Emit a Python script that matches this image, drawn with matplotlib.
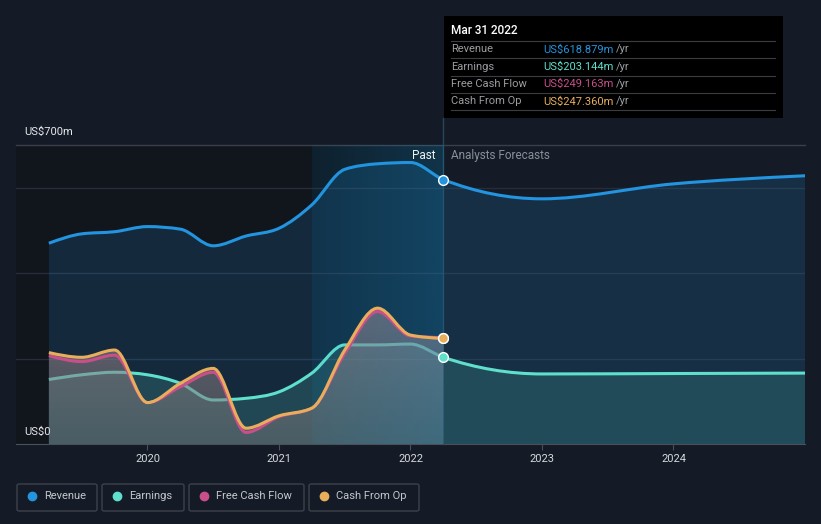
import numpy as np
import matplotlib
matplotlib.use('Agg')
import matplotlib.pyplot as plt
from matplotlib.path import Path
from matplotlib.patches import PathPatch, Rectangle, FancyBboxPatch
from matplotlib.lines import Line2D
from matplotlib.colors import to_rgb

plt.rcParams['font.family'] = ['Roboto', 'DejaVu Sans']

# --- data (US$m, trailing twelve months) ---
past_dates = [2019.25, 2019.5, 2019.75, 2020.0, 2020.25, 2020.5, 2020.75,
              2021.0, 2021.25, 2021.5, 2021.75, 2022.0, 2022.25]
revenue_past = [470, 492, 497, 509, 503, 464, 487, 505, 560, 643, 656, 659, 619]
earnings_past = [151, 162, 168, 162, 142, 103, 107, 122, 166, 232, 232, 234, 203]
fcf_past = [207, 193, 208, 97, 134, 168, 27, 64, 84, 212, 310, 253, 249]
cfo_past = [214, 203, 220, 97, 142, 177, 37, 66, 84, 220, 318, 255, 247]

fcst_dates = [2022.25, 2023.0, 2024.0, 2025.0]
revenue_fcst = [619, 574, 609, 628]
earnings_fcst = [203, 164, 165, 166]

x_ticks = [2020, 2021, 2022, 2023, 2024]

tooltip_date = 'Mar 31 2022'
tooltip_rows = [('Revenue', 'US$618.879m'), ('Earnings', 'US$203.144m'),
                ('Free Cash Flow', 'US$249.163m'), ('Cash From Op', 'US$247.360m')]

C_REV = '#2394df'
C_EARN = '#5fe0cc'
C_FCF = '#c94f8a'
C_CFO = '#e8ae5c'
BG = '#151b26'

W, H = 821, 524


def fx(x):
    return x / W


def fy(y):
    return 1 - y / H


def monotone_path(xs, ys, close=False):
    # monotone cubic curve (like d3 curveMonotoneX) as bezier path
    xs = np.asarray(xs, float)
    ys = np.asarray(ys, float)
    n = len(xs)
    h = np.diff(xs)
    d = np.diff(ys) / h
    m = np.zeros(n)
    for i in range(1, n - 1):
        if d[i - 1] * d[i] <= 0:
            m[i] = 0
        else:
            p = (d[i - 1] * h[i] + d[i] * h[i - 1]) / (h[i - 1] + h[i])
            m[i] = (np.sign(d[i - 1]) + np.sign(d[i])) * min(abs(d[i - 1]), abs(d[i]), 0.5 * abs(p))
    m[0] = (3 * d[0] - m[1]) / 2
    m[-1] = (3 * d[-1] - m[-2]) / 2
    verts = [(xs[0], ys[0])]
    codes = [Path.MOVETO]
    for i in range(n - 1):
        verts += [(xs[i] + h[i] / 3, ys[i] + m[i] * h[i] / 3),
                  (xs[i + 1] - h[i] / 3, ys[i + 1] - m[i + 1] * h[i] / 3),
                  (xs[i + 1], ys[i + 1])]
        codes += [Path.CURVE4] * 3
    if close:
        verts += [(xs[-1], 0), (xs[0], 0), (xs[0], 0)]
        codes += [Path.LINETO, Path.LINETO, Path.CLOSEPOLY]
    return Path(verts, codes)


fig = plt.figure(figsize=(W / 100, H / 100), dpi=100, facecolor=BG)
ax = fig.add_axes([fx(16), fy(444), fx(805 - 16), (444 - 145) / H])
ax.set_facecolor(BG)

# darker past background + highlighted last year
ax.axvspan(2019.0, 2021.25, color='#11151c', zorder=0, lw=0)
ax.axvspan(2021.25, 2022.25, color='#0e1b26', zorder=0, lw=0)

for g in [200, 400, 600]:
    ax.axhline(g, color='#262d39', lw=1, zorder=1)
ax.axhline(700, color='#3a404b', lw=1, zorder=1, clip_on=False)

rev_x = past_dates + fcst_dates[1:]
rev_y = revenue_past + revenue_fcst[1:]
earn_x = past_dates + fcst_dates[1:]
earn_y = earnings_past + earnings_fcst[1:]

# fills and lines
ax.add_patch(PathPatch(monotone_path(rev_x, rev_y, True), fc=C_REV, alpha=0.17, lw=0, zorder=2))
ax.add_patch(PathPatch(monotone_path(rev_x, rev_y), fc='none', ec=C_REV, lw=2.2, zorder=6))
ax.add_patch(PathPatch(monotone_path(earn_x, earn_y, True), fc=C_EARN, alpha=0.16, lw=0, zorder=2))
ax.add_patch(PathPatch(monotone_path(earn_x, earn_y), fc='none', ec=C_EARN, lw=2.2, zorder=6))

# cash area: warm grey, fading towards the bottom
cash_patch = PathPatch(monotone_path(past_dates, cfo_past, True), fc='none', lw=0, zorder=7)
ax.add_patch(cash_patch)
grad = np.zeros((100, 1, 4))
top_c = np.array(to_rgb('#a08890'))
bot_c = np.array(to_rgb('#747476'))
for k in range(100):
    t = k / 99
    grad[k, 0, :3] = bot_c * (1 - t) + top_c * t
    grad[k, 0, 3] = 0.5 + 0.1 * t
im = ax.imshow(grad, extent=[2019.0, 2022.25, 0, 330], origin='lower', aspect='auto',
               zorder=7, interpolation='bilinear')
im.set_clip_path(cash_patch)

ax.add_patch(PathPatch(monotone_path(past_dates, fcf_past), fc='none', ec=C_FCF, lw=2.2, zorder=8))
ax.add_patch(PathPatch(monotone_path(past_dates, cfo_past), fc='none', ec=C_CFO, lw=2.2, zorder=9))

# band tint over the fills, stronger to the right
band = np.zeros((1, 100, 4))
band[0, :, :3] = to_rgb('#1a9ad8')
band[0, :, 3] = np.linspace(0.05, 0.2, 100)
ax.imshow(band, extent=[2021.25, 2022.25, 0, 700], aspect='auto', zorder=7.5,
          interpolation='bilinear')
ax.set_xlim(2019.0, 2025.0)
ax.set_ylim(0, 700)
ax.axvline(2022.25, ymax=(444 - 118) / (444 - 145), color='#25465c', lw=1, zorder=5, clip_on=False)

# end points
ax.plot([2022.25], [revenue_past[-1]], 'o', ms=7, mfc=C_REV, mec='white', mew=1, zorder=10)
ax.plot([2022.25], [fcf_past[-1]], 'o', ms=7, mfc=C_FCF, mec='white', mew=1, zorder=10)
ax.plot([2022.25], [cfo_past[-1]], 'o', ms=7, mfc=C_CFO, mec='white', mew=1, zorder=10)
ax.plot([2022.25], [earnings_past[-1]], 'o', ms=7, mfc=C_EARN, mec='white', mew=1, zorder=10)

# axes styling
for s in ['top', 'right', 'left']:
    ax.spines[s].set_visible(False)
ax.spines['bottom'].set_color('#4a505a')
ax.set_yticks([])
ax.set_xticks(x_ticks)
ax.set_xticklabels([str(t) for t in x_ticks])
ax.tick_params(axis='x', colors='#4a505a', labelcolor='#d6d8dc', labelsize=8, length=4, pad=3)

fig.text(fx(24), fy(132), 'US$700m', color='#e6e8eb', fontsize=8, va='center')
fig.text(fx(24), fy(432), 'US$0', color='#e6e8eb', fontsize=8, va='center', zorder=20)
fig.text(fx(435), fy(156), 'Past', color='#f0f2f4', fontsize=8.5, va='center', ha='right')
fig.text(fx(451), fy(156), 'Analysts Forecasts', color='#8a8f98', fontsize=8.5, va='center')

# tooltip
fig.add_artist(Rectangle((fx(444), fy(118)), fx(783 - 444), (118 - 16) / H,
                         transform=fig.transFigure, fc='#000000', ec='none', zorder=30))
fig.text(fx(451), fy(31), tooltip_date, color='white', fontsize=8.5, va='center',
         fontweight='medium', zorder=31)
row_colors = [C_REV, C_EARN, C_FCF, C_CFO]
renderer = fig.canvas.get_renderer()
for i, ((lab, val), c) in enumerate(zip(tooltip_rows, row_colors)):
    ytop = 41 + i * 17.3
    fig.add_artist(Line2D([fx(451), fx(775)], [fy(ytop), fy(ytop)], transform=fig.transFigure,
                          color='#3a3d42', lw=0.8, zorder=31))
    yc = ytop + 8.5
    fig.text(fx(451), fy(yc), lab, color='#9a9da2', fontsize=8, va='center', zorder=31)
    t = fig.text(fx(543), fy(yc), val, color=c, fontsize=8, va='center', zorder=31)
    bb = t.get_window_extent(renderer)
    fig.text(bb.x1 / W + fx(3), fy(yc), '/yr', color='#9a9da2', fontsize=8, va='center', zorder=31)
fig.add_artist(Line2D([fx(451), fx(775)], [fy(110), fy(110)], transform=fig.transFigure,
                      color='#3a3d42', lw=0.8, zorder=31))

# legend
legend_items = [('Revenue', C_REV, 17, 97), ('Earnings', C_EARN, 102, 184),
                ('Free Cash Flow', C_FCF, 189, 304), ('Cash From Op', C_CFO, 309, 419)]
for lab, c, x0, x1 in legend_items:
    fig.add_artist(FancyBboxPatch((fx(x0), fy(511)), fx(x1 - x0), 27 / H,
                                  boxstyle='round,pad=0,rounding_size=0.003',
                                  transform=fig.transFigure, fc=BG, ec='#3c414b', lw=1))
    fig.add_artist(Line2D([fx(x0 + 15)], [fy(496)], transform=fig.transFigure, marker='o',
                          ms=6, mfc=c, mec=c, ls='none'))
    fig.text(fx(x0 + 27), fy(496), lab, color='#c4c7cc', fontsize=8, va='center')

fig.savefig('out.png', dpi=100, facecolor=BG)
